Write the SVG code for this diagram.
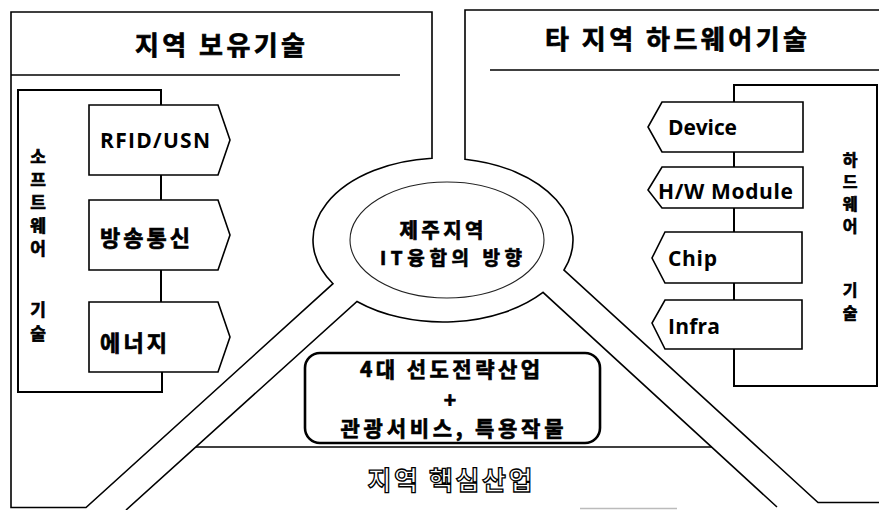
<svg xmlns="http://www.w3.org/2000/svg" width="879" height="510" viewBox="0 0 879 510">
<style>
  .ln{fill:none;stroke:#000;stroke-width:1.6;stroke-linejoin:miter}
  .thin{fill:none;stroke:#222;stroke-width:1.1}
  .box{fill:#fff;stroke:#000;stroke-width:1.6;stroke-linejoin:miter}
  .br{fill:none;stroke:#000;stroke-width:2}
  .kr{font-family:"Noto Sans CJK KR","Noto Sans",sans-serif;font-weight:bold;fill:#000;stroke:#000;stroke-width:0.7}
  .lat{font-family:"Open Sans","Noto Sans CJK KR",sans-serif;font-weight:bold;fill:#000}
  .c{text-anchor:middle;dominant-baseline:central}
  .s{text-anchor:start;dominant-baseline:central}
</style>
<rect width="879" height="510" fill="#fff"/>

<g id="panels">
  <path class="ln" d="M 11,12 H 432 V 158.3 A 130 82 0 0 0 333,283.7 L 86,507.5 H 11 Z"/>
  <path class="ln" d="M 879,10 H 465 V 159.2 A 130 82 0 0 1 564,270 L 818,502.5 H 879"/>
  <path class="ln" d="M 126,510 L 357,301.5 A 130 82 0 0 0 543,292.4 L 777,507"/>
  <line class="ln" x1="196" y1="447" x2="712" y2="447"/>
  <line x1="580" y1="508.5" x2="677" y2="508.5" stroke="#bbb" stroke-width="1.5"/>
  <line class="ln" x1="11" y1="75" x2="400" y2="75"/>
  <line class="ln" x1="490" y1="70" x2="879" y2="70"/>
</g>

<g id="title-left">
  <text class="kr c" x="220" y="43" font-size="26" textLength="170" lengthAdjust="spacing">지역 보유기술</text>
</g>
<g id="title-right">
  <text class="kr c" x="676" y="37" font-size="26" textLength="262" lengthAdjust="spacing">타 지역 하드웨어기술</text>
</g>

<g id="center">
  <ellipse class="thin" cx="447" cy="240" rx="97" ry="58"/>
  <text class="kr c">
    <tspan x="445" y="229" font-size="20" textLength="84" lengthAdjust="spacing">제주지역</tspan>
    <tspan x="451" y="256" font-size="19" textLength="142" lengthAdjust="spacing">IT융합의 방향</tspan>
  </text>
</g>

<g id="connectors">
  <path class="br" d="M 161,105 V 90 H 18 V 392 H 162 V 372"/>
  <line class="br" x1="161" y1="175" x2="161" y2="200"/>
  <line class="br" x1="161" y1="270" x2="161" y2="302"/>
  <path class="br" d="M 734,102 V 85 H 877 V 386 H 734 V 349"/>
  <line class="br" x1="734" y1="152" x2="734" y2="167"/>
  <line class="br" x1="734" y1="208" x2="734" y2="232"/>
  <line class="br" x1="734" y1="283" x2="734" y2="300"/>
</g>

<g id="sw-label">
  <text class="kr c" font-size="17">
    <tspan x="38" y="155">소</tspan><tspan x="38" y="178">프</tspan><tspan x="38" y="201">트</tspan><tspan x="38" y="224">웨</tspan><tspan x="38" y="247">어</tspan><tspan x="38" y="308">기</tspan><tspan x="38" y="332">술</tspan>
  </text>
</g>
<g id="hw-label">
  <text class="kr c" font-size="16">
    <tspan x="850" y="159">하</tspan><tspan x="850" y="181">드</tspan><tspan x="850" y="203">웨</tspan><tspan x="850" y="225">어</tspan><tspan x="850" y="289">기</tspan><tspan x="850" y="312">술</tspan>
  </text>
</g>

<g id="rfid">
  <polygon class="box" points="89,105 218,105 230,140 218,175 89,175"/>
  <text class="lat s" x="100" y="140" font-size="21" textLength="110" lengthAdjust="spacing">RFID/USN</text>
</g>
<g id="broadcast">
  <polygon class="box" points="89,200 218,200 230,235 218,270 89,270"/>
  <text class="kr s" x="100" y="236" font-size="22" textLength="90" lengthAdjust="spacing">방송통신</text>
</g>
<g id="energy">
  <polygon class="box" points="89,302 218,302 230,337 218,372 89,372"/>
  <text class="kr s" x="100" y="341" font-size="22" textLength="67" lengthAdjust="spacing">에너지</text>
</g>

<g id="device">
  <polygon class="box" points="662,102 803,102 803,152 662,152 648,127"/>
  <text class="lat s" x="668" y="127" font-size="21" textLength="69" lengthAdjust="spacing">Device</text>
</g>
<g id="hw-module">
  <polygon class="box" points="662,167 803,167 803,208 662,208 648,190"/>
  <text class="lat s" x="658" y="191" font-size="21" textLength="135" lengthAdjust="spacing">H/W Module</text>
</g>
<g id="chip">
  <polygon class="box" points="665,232 802,232 802,283 665,283 652,258"/>
  <text class="lat s" x="668" y="258" font-size="21" textLength="49" lengthAdjust="spacing">Chip</text>
</g>
<g id="infra">
  <polygon class="box" points="665,300 802,300 802,349 665,349 652,323"/>
  <text class="lat s" x="668" y="326" font-size="21" textLength="52" lengthAdjust="spacing">Infra</text>
</g>

<g id="industry">
  <rect x="305" y="353" width="295" height="90" rx="15" ry="15" fill="#fff" stroke="#000" stroke-width="2.6"/>
  <text class="kr c" x="450" y="368" font-size="21" textLength="180" lengthAdjust="spacing">4대 선도전략산업</text>
  <text class="kr c" x="450" y="399" font-size="21">+</text>
  <text class="kr c" x="452" y="427" font-size="21" textLength="223" lengthAdjust="spacing">관광서비스, 특용작물</text>
</g>

<g id="core-industry">
  <text class="c" x="450" y="478" font-size="26" textLength="165" lengthAdjust="spacing" font-family="Noto Sans CJK KR, sans-serif" font-weight="bold" fill="#fff" stroke="#000" stroke-width="1.3">지역 핵심산업</text>
</g>
</svg>
